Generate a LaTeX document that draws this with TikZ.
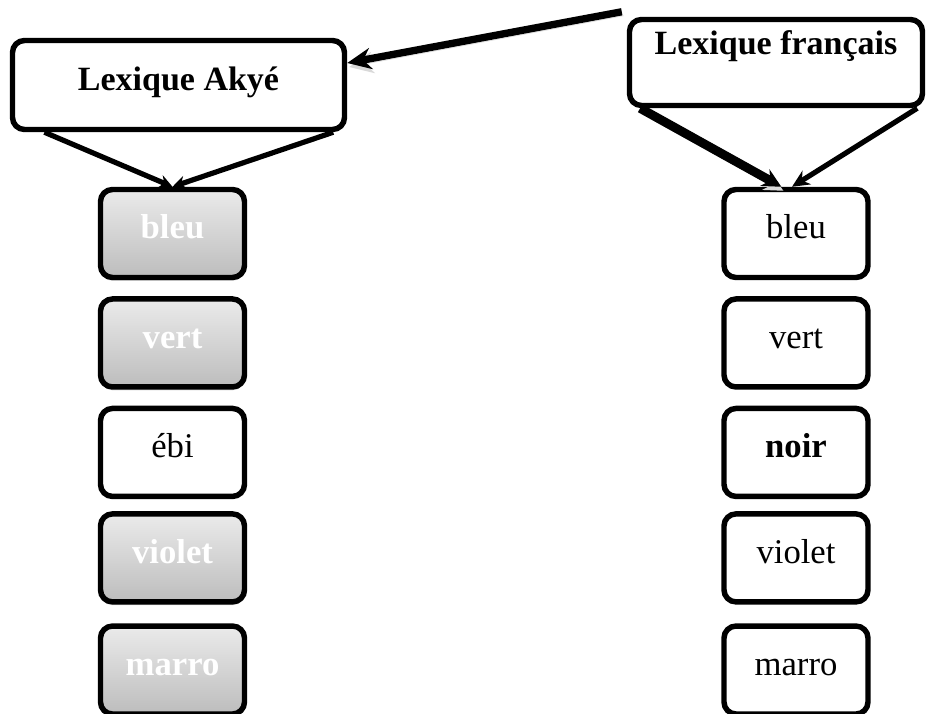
\documentclass[tikz,border=0pt]{standalone}
\usepackage{fontspec}
\setmainfont{Liberation Serif}
\usetikzlibrary{positioning,arrows.meta,shadows}

\begin{document}
\begin{tikzpicture}[x=0.75pt, y=-0.75pt, >=Stealth,
  font=\fontsize{26}{30}\selectfont,
  lexbox/.style={rectangle, rounded corners=9pt, draw=black, line width=4.1pt,
    fill=white, text height=17pt, inner sep=0pt},
  head/.style={lexbox, font=\fontsize{25.5}{30}\selectfont\bfseries},
  word/.style={lexbox, minimum width=108pt, minimum height=66pt, text depth=9pt},
  akye/.style={word, top color=black!8, bottom color=black!26, text=white,
    font=\fontsize{26}{30}\selectfont\bfseries,
    drop shadow={shadow xshift=0pt, shadow yshift=-2.5pt, opacity=0.3}},
  arrow/.style={line width=3.9pt, -{Stealth[length=10pt,width=10pt]}},
  shade/.style={preaction={draw=black!15, transform canvas={shift={(1.5pt,-3pt)}}}}]

  \useasboundingbox (0,0) rectangle (926,714);

  % headers
  \node[head, minimum width=249pt, minimum height=66.75pt, text depth=9pt]
    (lexAk) at (178.5,85) {Lexique Akyé};
  \node[head, minimum width=219.75pt, minimum height=64.5pt, text depth=28.5pt]
    (lexFr) at (776,62.5) {Lexique français};

  % Akye column
  \node[akye] (akBleu) at (172.5,233.5) {bleu};
  \node[akye, below=12pt of akBleu] (akVert) {vert};
  \node[word, below=12pt of akVert] (akEbi) {ébi};
  \node[akye, below=9pt of akEbi] (akViolet) {violet};
  \node[akye, below=14pt of akViolet] (akMarro) {marro};

  % French column
  \node[word] (frBleu) at (796,233.5) {bleu};
  \node[word, below=12pt of frBleu] (frVert) {vert};
  \node[word, below=12pt of frVert] (frNoir) {\textbf{noir}};
  \node[word, below=9pt of frNoir] (frViolet) {violet};
  \node[word, below=14pt of frViolet] (frMarro) {marro};

  \draw[arrow, shade, line width=5.5pt, -{Stealth[length=18pt,width=16pt]}]
    ([xshift=-3.75pt,yshift=3.75pt]lexFr.north west) -- ([yshift=16.5pt]lexAk.east);
  \draw[arrow] ([xshift=26pt]lexAk.south west) -- (akBleu.north);
  \draw[arrow] ([xshift=-10.5pt]lexAk.south east) -- (akBleu.north);
  \draw[arrow, shade, line width=6.75pt, -{Stealth[length=14pt,width=14pt]}]
    ([xshift=10pt]lexFr.south west) -- ([xshift=-11pt]frBleu.north);
  \draw[arrow, -{Stealth[length=13pt,width=12pt]}]
    ([xshift=-6pt]lexFr.south east) -- ([xshift=-3pt]frBleu.north);
\end{tikzpicture}
\end{document}
